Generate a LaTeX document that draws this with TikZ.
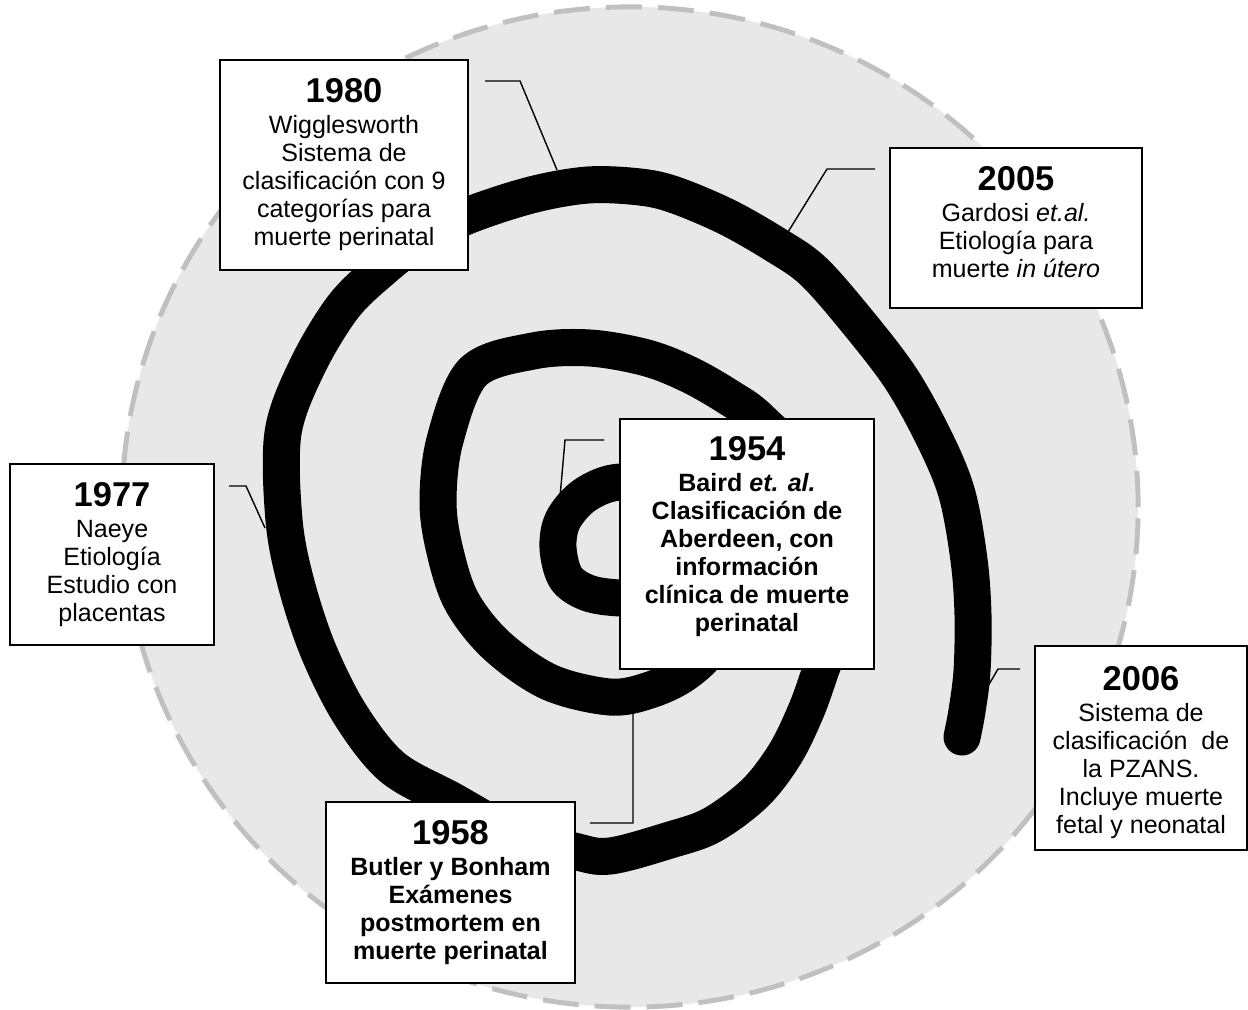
\documentclass[tikz,border=0pt]{standalone}
\usepackage{fontspec}
\setmainfont{Liberation Sans}
\usetikzlibrary{backgrounds}
\usetikzlibrary{calc}
\usetikzlibrary{positioning}

\definecolor{fondogris}{HTML}{E8E8E8}
\definecolor{bordegris}{HTML}{C0C0C0}
\newcommand{\anio}[1]{{\fontsize{24.5}{28}\selectfont\bfseries #1}\\[2pt]}

\begin{document}
\begin{tikzpicture}[
    x=0.025cm, y=-0.025cm,
    font=\fontsize{17.8}{20}\selectfont,
    caja/.style={draw, line width=1.4pt, fill=white, anchor=north west, inner sep=0pt},
    texto/.style={align=center, inner sep=0pt},
    negrita/.style={texto, font=\fontsize{17.8}{20}\selectfont\bfseries},
    conector/.style={line width=1pt},
    espiral/.style={line width=0.925cm, line cap=round, line join=round},
    fondo/.style={fill=fondogris, draw=bordegris, line width=3.5pt, dash pattern=on 0.9cm off 0.4cm},
 ]
    \useasboundingbox (0,0) rectangle (1248,1009);

    % cajas con los hitos
    \node[caja, minimum width=6.2cm, minimum height=5.25cm] (b1980) at (219,59) {};
    \node[texto, below=0.47cm of b1980.north] (t1980) {\anio{1980}Wigglesworth\\Sistema de\\clasificación con 9\\categorías para\\muerte perinatal};

    \node[caja, minimum width=6.3cm, minimum height=4cm] (b2005) at (889,147) {};
    \node[texto, below=0.47cm of b2005.north] (t2005) {\anio{2005}Gardosi \textit{et.al.}\\Etiología para\\muerte \textit{in útero}};

    \node[caja, minimum width=6.35cm, minimum height=6.25cm] (b1954) at (619,418) {};
    \node[negrita, below=0.45cm of b1954.north] (t1954) {\anio{1954}Baird \textit{et. al.}\\Clasificación de\\Aberdeen, con\\información\\clínica de muerte\\perinatal};

    \node[caja, minimum width=5.1cm, minimum height=4.525cm] (b1977) at (9,463) {};
    \node[texto, below=0.47cm of b1977.north] (t1977) {\anio{1977}Naeye\\Etiología\\Estudio con\\placentas};

    \node[caja, minimum width=6.225cm, minimum height=4.525cm] (b1958) at (325,801) {};
    \node[negrita, below=0.47cm of b1958.north] (t1958) {\anio{1958}Butler y Bonham\\Exámenes\\postmortem en\\muerte perinatal};

    \node[caja, minimum width=5.3cm, minimum height=5.1cm] (b2006) at (1034,645) {};
    \node[texto, below=0.52cm of b2006.north] (t2006) {\anio{2006}Sistema de\\clasificación~ de\\la PZANS.\\Incluye muerte\\fetal y neonatal};

    % puntos donde los conectores tocan la espiral
    \coordinate (p1980) at (557,170);
    \coordinate (p2005) at (788,232);
    \coordinate (p1954) at (560,497);
    \coordinate (p1977) at (265,528);
    \coordinate (p1958) at (633,711);
    \coordinate (p2006) at (988,686);

    \begin{pgfonlayer}{background}
    \draw[fondo] (630,507) ellipse [x radius=12.7cm, y radius=12.5cm];
    \draw[espiral] plot[smooth, tension=0.55] coordinates {
        (670,598) (620,598) (588,593) (566,578) (558,548) (563,520) (585,495) (620,482)
        (675,490) (718,530) (730,590) (712,645) (685,673) (650,690) (610,697) (549,682)
        (496,645) (461,600) (444,547) (438,500) (445,440) (473,372) (533,351) (590,348)
        (647,358) (690,375) (730,398) (760,420) (815,480) (840,560) (830,640) (820,672)
        (806,711) (785,754) (755,793) (712,825) (670,840) (610,856) (574,851) (510,832)
        (451,800) (392,767) (350,714) (318,650) (296,583) (284,520) (283,433) (307,367)
        (343,307) (382,269) (420,240) (467,216) (531,195) (588,185) (640,187) (675,195)
        (727,217) (776,245) (812,270) (852,315) (900,377) (935,440) (957,494) (969,560)
        (973,615) (972,671) (967,711) (962,737)};
    \draw[conector] ($(b1980.north east)+(16,22)$) -- ++(35,0) -- (p1980);
    \draw[conector] ($(b2005.north west)+(-14,22)$) -- ++(-48,0) -- (p2005);
    \draw[conector] ($(b1954.north west)+(-15,22)$) -- ++(-39,0) -- (p1954);
    \draw[conector] ($(b1977.north east)+(14,23)$) -- ++(17,0) -- (p1977);
    \draw[conector] ($(b1958.north east)+(14,22)$) -- ++(43,0) -- (p1958);
    \draw[conector] ($(b2006.north west)+(-14,24)$) -- ++(-22,0) -- (p2006);
    \end{pgfonlayer}
\end{tikzpicture}
\end{document}
